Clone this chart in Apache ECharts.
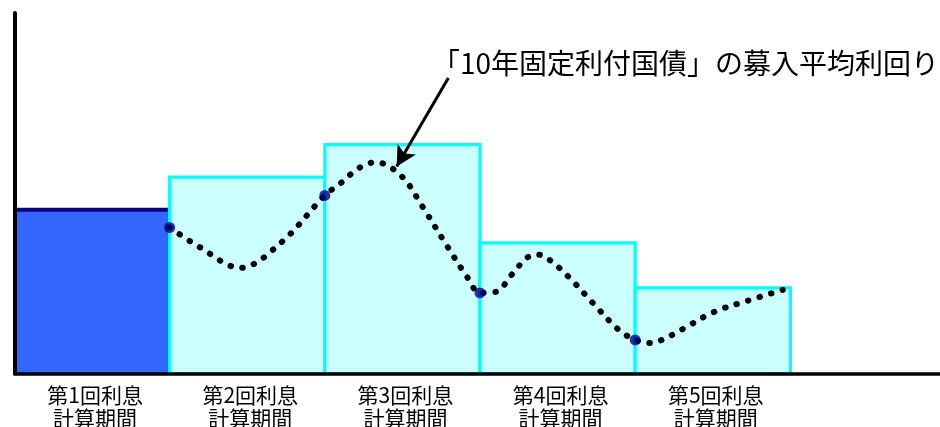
<!DOCTYPE html>
<html><head><meta charset="utf-8">
<script src="https://cdn.jsdelivr.net/npm/echarts@6/dist/echarts.min.js"></script>
<style>html,body{margin:0;padding:0;background:#fff}#c{width:940px;height:427px}</style>
</head><body><div id="c"></div>
<script>
// Categories (last one empty: axis continues beyond the 5th period)
const categories = ['第1回利息\n計算期間','第2回利息\n計算期間','第3回利息\n計算期間','第4回利息\n計算期間','第5回利息\n計算期間',''];
// Bar heights (arbitrary units)
const periodValues = [163.5, 196.2, 228.5, 130.5, 85.5];
// Dotted yield curve (x in category units, y in value units)
const curveX = [1.0, 1.19, 1.455, 1.72, 2.0, 2.10, 2.22, 2.33, 2.496, 2.626, 2.79, 2.918, 3.0, 3.103, 3.207, 3.312, 3.383, 3.453, 3.569, 3.727, 3.888, 4.0, 4.092, 4.167, 4.304, 4.509, 4.728, 4.951];
const curveY = [145.8, 126.5, 105.5, 131.0, 177.8, 189.8, 205.2, 211.0, 196.8, 167.5, 126.8, 96.2, 80.5, 81.5, 99.2, 116.5, 118.5, 112.8, 96.8, 70.5, 44.5, 33.5, 30.5, 33.2, 44.2, 61.5, 72.8, 83.5];
// Auction yield markers at period boundaries
const markerX = [1, 2, 3, 4];
const markerY = [145.8, 177.8, 80.5, 33.5];
// Annotation
const annotationText = '「10年固定利付国債」の募入平均利回り';
const arrowFrom = [2.796, 295.2];
const arrowTo = [2.463, 206.8];

const chart = echarts.init(document.getElementById('c'), null, {renderer:'canvas'});
const FONT = '"Noto Sans CJK JP", sans-serif';
chart.setOption({
  animation: false,
  grid: {left: 14.5, top: 13, right: -5.5, bottom: 53.5, containLabel: false, outerBoundsMode: 'none'},
  xAxis: [
    {type:'category', data: categories, boundaryGap: true, z: 10,
     axisLine:{show:true, lineStyle:{color:'#000', width:3.5}},
     axisTick:{show:false},
     axisLabel:{color:'#000', fontSize:21, fontFamily:FONT, lineHeight:23, margin:10, interval:0, padding:[0,0,0,6]}},
    {type:'value', min:0, max:6, show:false}
  ],
  yAxis: {type:'value', min:0, max:360, z:10,
    axisLine:{show:true, lineStyle:{color:'#000', width:4}},
    axisTick:{show:false}, axisLabel:{show:false}, splitLine:{show:false}},
  series: [
    {type:'custom', xAxisIndex:0, z:2,
     data: periodValues.map((v,i)=>[i,v]),
     renderItem: function(params, api){
       const i = api.value(0), v = api.value(1);
       const c = api.coord([i, v]);
       const b = api.coord([i, 0]);
       const w = api.size([1, 0])[0];
       const x0 = c[0]-w/2, x1 = c[0]+w/2;
       if (i === 0) {
         return {type:'group', children:[
           {type:'rect', shape:{x:x0, y:c[1], width:w, height:b[1]-c[1]}, style:{fill:'#3366FF'}},
           {type:'line', shape:{x1:x0, y1:c[1], x2:x1, y2:c[1]}, style:{stroke:'#000080', lineWidth:4}}
         ]};
       }
       return {type:'rect', shape:{x:x0, y:c[1], width:w, height:b[1]-c[1]},
               style:{fill:'#CCFFFF', stroke:'#00FFFF', lineWidth:3.2}};
     }},
    {type:'line', xAxisIndex:1, z:5, smooth:0.35, symbol:'none',
     data: curveX.map((x,i)=>[x, curveY[i]]),
     lineStyle:{color:'#000', width:6, type:[0.5, 11.5], cap:'round'},
     markLine:{silent:true, symbol:['none','arrow'], symbolSize:[16,20],
       lineStyle:{color:'#000', width:3, type:'solid'}, label:{show:false},
       data:[[{coord:arrowFrom},{coord:arrowTo}]]}},
    {type:'scatter', xAxisIndex:1, z:6, symbol:'circle', symbolSize:11,
     itemStyle:{color:'#000080'},
     data: markerX.map((x,i)=>[x, markerY[i]])}
  ],
  graphic: [
    {type:'text', left:432, top:49, z:20,
     style:{text: annotationText, font:'28px ' + FONT, fill:'#000'}}
  ]
});
</script>
</body></html>
